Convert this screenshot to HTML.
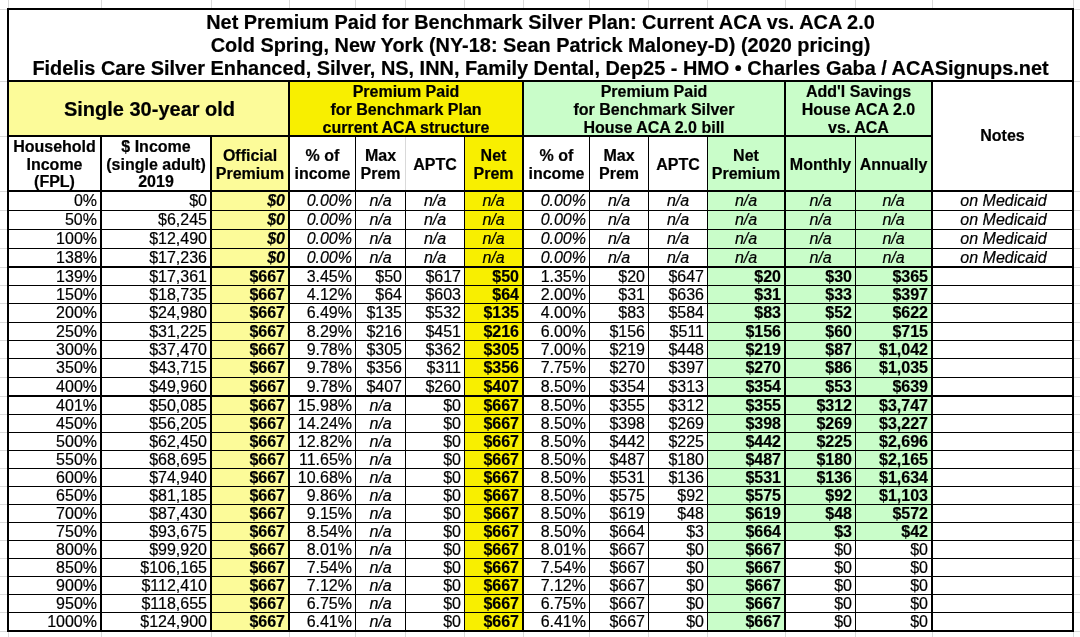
<!DOCTYPE html>
<html><head><meta charset="utf-8"><style>
html,body{margin:0;padding:0;background:#fff;width:1080px;height:637px;overflow:hidden;position:relative}
body{font-family:"Liberation Sans",sans-serif;color:#000}
.r{position:absolute}
.t{position:absolute;box-sizing:border-box;font-size:16px;white-space:nowrap;overflow:visible}
.b{font-weight:bold}
.t{-webkit-text-stroke:0.2px #000}
#tx{position:absolute;left:0;top:0;width:1080px;height:637px;will-change:transform}
.i{font-style:italic}
.c{display:flex;align-items:center;justify-content:center;text-align:center}
</style></head><body>
<div class="r" style="left:8px;top:0px;width:1px;height:8px;background:#D9D9D9"></div>
<div class="r" style="left:8px;top:632px;width:1px;height:5px;background:#D9D9D9"></div>
<div class="r" style="left:101px;top:0px;width:1px;height:8px;background:#D9D9D9"></div>
<div class="r" style="left:101px;top:632px;width:1px;height:5px;background:#D9D9D9"></div>
<div class="r" style="left:211px;top:0px;width:1px;height:8px;background:#D9D9D9"></div>
<div class="r" style="left:211px;top:632px;width:1px;height:5px;background:#D9D9D9"></div>
<div class="r" style="left:289px;top:0px;width:1px;height:8px;background:#D9D9D9"></div>
<div class="r" style="left:289px;top:632px;width:1px;height:5px;background:#D9D9D9"></div>
<div class="r" style="left:355px;top:0px;width:1px;height:8px;background:#D9D9D9"></div>
<div class="r" style="left:355px;top:632px;width:1px;height:5px;background:#D9D9D9"></div>
<div class="r" style="left:405px;top:0px;width:1px;height:8px;background:#D9D9D9"></div>
<div class="r" style="left:405px;top:632px;width:1px;height:5px;background:#D9D9D9"></div>
<div class="r" style="left:464px;top:0px;width:1px;height:8px;background:#D9D9D9"></div>
<div class="r" style="left:464px;top:632px;width:1px;height:5px;background:#D9D9D9"></div>
<div class="r" style="left:523px;top:0px;width:1px;height:8px;background:#D9D9D9"></div>
<div class="r" style="left:523px;top:632px;width:1px;height:5px;background:#D9D9D9"></div>
<div class="r" style="left:589px;top:0px;width:1px;height:8px;background:#D9D9D9"></div>
<div class="r" style="left:589px;top:632px;width:1px;height:5px;background:#D9D9D9"></div>
<div class="r" style="left:648px;top:0px;width:1px;height:8px;background:#D9D9D9"></div>
<div class="r" style="left:648px;top:632px;width:1px;height:5px;background:#D9D9D9"></div>
<div class="r" style="left:707px;top:0px;width:1px;height:8px;background:#D9D9D9"></div>
<div class="r" style="left:707px;top:632px;width:1px;height:5px;background:#D9D9D9"></div>
<div class="r" style="left:785px;top:0px;width:1px;height:8px;background:#D9D9D9"></div>
<div class="r" style="left:785px;top:632px;width:1px;height:5px;background:#D9D9D9"></div>
<div class="r" style="left:855px;top:0px;width:1px;height:8px;background:#D9D9D9"></div>
<div class="r" style="left:855px;top:632px;width:1px;height:5px;background:#D9D9D9"></div>
<div class="r" style="left:932px;top:0px;width:1px;height:8px;background:#D9D9D9"></div>
<div class="r" style="left:932px;top:632px;width:1px;height:5px;background:#D9D9D9"></div>
<div class="r" style="left:1073px;top:0px;width:1px;height:8px;background:#D9D9D9"></div>
<div class="r" style="left:1073px;top:632px;width:1px;height:5px;background:#D9D9D9"></div>
<div class="r" style="left:0px;top:9px;width:7px;height:1px;background:#D9D9D9"></div>
<div class="r" style="left:1074px;top:9px;width:6px;height:1px;background:#D9D9D9"></div>
<div class="r" style="left:0px;top:81px;width:7px;height:1px;background:#D9D9D9"></div>
<div class="r" style="left:1074px;top:81px;width:6px;height:1px;background:#D9D9D9"></div>
<div class="r" style="left:0px;top:136px;width:7px;height:1px;background:#D9D9D9"></div>
<div class="r" style="left:1074px;top:136px;width:6px;height:1px;background:#D9D9D9"></div>
<div class="r" style="left:0px;top:191px;width:7px;height:1px;background:#D9D9D9"></div>
<div class="r" style="left:1074px;top:191px;width:6px;height:1px;background:#D9D9D9"></div>
<div class="r" style="left:0px;top:210px;width:7px;height:1px;background:#D9D9D9"></div>
<div class="r" style="left:1074px;top:210px;width:6px;height:1px;background:#D9D9D9"></div>
<div class="r" style="left:0px;top:229px;width:7px;height:1px;background:#D9D9D9"></div>
<div class="r" style="left:1074px;top:229px;width:6px;height:1px;background:#D9D9D9"></div>
<div class="r" style="left:0px;top:248px;width:7px;height:1px;background:#D9D9D9"></div>
<div class="r" style="left:1074px;top:248px;width:6px;height:1px;background:#D9D9D9"></div>
<div class="r" style="left:0px;top:267px;width:7px;height:1px;background:#D9D9D9"></div>
<div class="r" style="left:1074px;top:267px;width:6px;height:1px;background:#D9D9D9"></div>
<div class="r" style="left:0px;top:285px;width:7px;height:1px;background:#D9D9D9"></div>
<div class="r" style="left:1074px;top:285px;width:6px;height:1px;background:#D9D9D9"></div>
<div class="r" style="left:0px;top:303px;width:7px;height:1px;background:#D9D9D9"></div>
<div class="r" style="left:1074px;top:303px;width:6px;height:1px;background:#D9D9D9"></div>
<div class="r" style="left:0px;top:322px;width:7px;height:1px;background:#D9D9D9"></div>
<div class="r" style="left:1074px;top:322px;width:6px;height:1px;background:#D9D9D9"></div>
<div class="r" style="left:0px;top:340px;width:7px;height:1px;background:#D9D9D9"></div>
<div class="r" style="left:1074px;top:340px;width:6px;height:1px;background:#D9D9D9"></div>
<div class="r" style="left:0px;top:358px;width:7px;height:1px;background:#D9D9D9"></div>
<div class="r" style="left:1074px;top:358px;width:6px;height:1px;background:#D9D9D9"></div>
<div class="r" style="left:0px;top:377px;width:7px;height:1px;background:#D9D9D9"></div>
<div class="r" style="left:1074px;top:377px;width:6px;height:1px;background:#D9D9D9"></div>
<div class="r" style="left:0px;top:396px;width:7px;height:1px;background:#D9D9D9"></div>
<div class="r" style="left:1074px;top:396px;width:6px;height:1px;background:#D9D9D9"></div>
<div class="r" style="left:0px;top:414px;width:7px;height:1px;background:#D9D9D9"></div>
<div class="r" style="left:1074px;top:414px;width:6px;height:1px;background:#D9D9D9"></div>
<div class="r" style="left:0px;top:432px;width:7px;height:1px;background:#D9D9D9"></div>
<div class="r" style="left:1074px;top:432px;width:6px;height:1px;background:#D9D9D9"></div>
<div class="r" style="left:0px;top:450px;width:7px;height:1px;background:#D9D9D9"></div>
<div class="r" style="left:1074px;top:450px;width:6px;height:1px;background:#D9D9D9"></div>
<div class="r" style="left:0px;top:468px;width:7px;height:1px;background:#D9D9D9"></div>
<div class="r" style="left:1074px;top:468px;width:6px;height:1px;background:#D9D9D9"></div>
<div class="r" style="left:0px;top:486px;width:7px;height:1px;background:#D9D9D9"></div>
<div class="r" style="left:1074px;top:486px;width:6px;height:1px;background:#D9D9D9"></div>
<div class="r" style="left:0px;top:504px;width:7px;height:1px;background:#D9D9D9"></div>
<div class="r" style="left:1074px;top:504px;width:6px;height:1px;background:#D9D9D9"></div>
<div class="r" style="left:0px;top:522px;width:7px;height:1px;background:#D9D9D9"></div>
<div class="r" style="left:1074px;top:522px;width:6px;height:1px;background:#D9D9D9"></div>
<div class="r" style="left:0px;top:540px;width:7px;height:1px;background:#D9D9D9"></div>
<div class="r" style="left:1074px;top:540px;width:6px;height:1px;background:#D9D9D9"></div>
<div class="r" style="left:0px;top:558px;width:7px;height:1px;background:#D9D9D9"></div>
<div class="r" style="left:1074px;top:558px;width:6px;height:1px;background:#D9D9D9"></div>
<div class="r" style="left:0px;top:576px;width:7px;height:1px;background:#D9D9D9"></div>
<div class="r" style="left:1074px;top:576px;width:6px;height:1px;background:#D9D9D9"></div>
<div class="r" style="left:0px;top:594px;width:7px;height:1px;background:#D9D9D9"></div>
<div class="r" style="left:1074px;top:594px;width:6px;height:1px;background:#D9D9D9"></div>
<div class="r" style="left:0px;top:612px;width:7px;height:1px;background:#D9D9D9"></div>
<div class="r" style="left:1074px;top:612px;width:6px;height:1px;background:#D9D9D9"></div>
<div class="r" style="left:0px;top:631px;width:7px;height:1px;background:#D9D9D9"></div>
<div class="r" style="left:1074px;top:631px;width:6px;height:1px;background:#D9D9D9"></div>
<div class="r" style="left:9px;top:82px;width:279px;height:53px;background:#FCFB99"></div>
<div class="r" style="left:290px;top:82px;width:232px;height:53px;background:#F8EF00"></div>
<div class="r" style="left:524px;top:82px;width:260px;height:53px;background:#C9FDC9"></div>
<div class="r" style="left:786px;top:82px;width:145px;height:53px;background:#C9FDC9"></div>
<div class="r" style="left:212px;top:137px;width:76px;height:53px;background:#FCFB99"></div>
<div class="r" style="left:465px;top:137px;width:57px;height:53px;background:#F8EF00"></div>
<div class="r" style="left:708px;top:137px;width:76px;height:53px;background:#C9FDC9"></div>
<div class="r" style="left:786px;top:137px;width:145px;height:53px;background:#C9FDC9"></div>
<div class="r" style="left:212px;top:192px;width:76px;height:438px;background:#FCFB99"></div>
<div class="r" style="left:465px;top:192px;width:57px;height:438px;background:#F8EF00"></div>
<div class="r" style="left:708px;top:192px;width:76px;height:438px;background:#C9FDC9"></div>
<div class="r" style="left:786px;top:192px;width:145px;height:348px;background:#C9FDC9"></div>
<div class="r" style="left:7px;top:8px;width:1067px;height:2px;background:#000"></div>
<div class="r" style="left:7px;top:630px;width:1067px;height:2px;background:#000"></div>
<div class="r" style="left:7px;top:8px;width:2px;height:624px;background:#000"></div>
<div class="r" style="left:1072px;top:8px;width:2px;height:624px;background:#000"></div>
<div class="r" style="left:7px;top:80px;width:1067px;height:2px;background:#000"></div>
<div class="r" style="left:7px;top:135px;width:926px;height:2px;background:#000"></div>
<div class="r" style="left:7px;top:190px;width:1067px;height:2px;background:#000"></div>
<div class="r" style="left:288px;top:80px;width:2px;height:552px;background:#000"></div>
<div class="r" style="left:522px;top:80px;width:2px;height:552px;background:#000"></div>
<div class="r" style="left:784px;top:80px;width:2px;height:552px;background:#000"></div>
<div class="r" style="left:931px;top:80px;width:2px;height:552px;background:#000"></div>
<div class="r" style="left:100px;top:135px;width:2px;height:497px;background:#000"></div>
<div class="r" style="left:210px;top:135px;width:2px;height:497px;background:#000"></div>
<div class="r" style="left:355px;top:135px;width:1px;height:497px;background:#000"></div>
<div class="r" style="left:464px;top:135px;width:1px;height:497px;background:#000"></div>
<div class="r" style="left:589px;top:135px;width:1px;height:497px;background:#000"></div>
<div class="r" style="left:648px;top:135px;width:1px;height:497px;background:#000"></div>
<div class="r" style="left:707px;top:135px;width:1px;height:497px;background:#000"></div>
<div class="r" style="left:855px;top:135px;width:1px;height:497px;background:#000"></div>
<div class="r" style="left:405px;top:137px;width:1px;height:53px;background:#D9D9D9"></div>
<div class="r" style="left:405px;top:190px;width:1px;height:442px;background:#000"></div>
<div class="r" style="left:7px;top:190px;width:1067px;height:2px;background:#000"></div>
<div class="r" style="left:7px;top:210px;width:1067px;height:1px;background:#000"></div>
<div class="r" style="left:7px;top:229px;width:1067px;height:1px;background:#000"></div>
<div class="r" style="left:7px;top:248px;width:1067px;height:1px;background:#000"></div>
<div class="r" style="left:7px;top:266px;width:1067px;height:2px;background:#000"></div>
<div class="r" style="left:7px;top:285px;width:1067px;height:1px;background:#000"></div>
<div class="r" style="left:7px;top:303px;width:1067px;height:1px;background:#000"></div>
<div class="r" style="left:7px;top:322px;width:1067px;height:1px;background:#000"></div>
<div class="r" style="left:7px;top:340px;width:1067px;height:1px;background:#000"></div>
<div class="r" style="left:7px;top:358px;width:1067px;height:1px;background:#000"></div>
<div class="r" style="left:7px;top:377px;width:1067px;height:1px;background:#000"></div>
<div class="r" style="left:7px;top:395px;width:1067px;height:2px;background:#000"></div>
<div class="r" style="left:7px;top:414px;width:1067px;height:1px;background:#000"></div>
<div class="r" style="left:7px;top:432px;width:1067px;height:1px;background:#000"></div>
<div class="r" style="left:7px;top:450px;width:1067px;height:1px;background:#000"></div>
<div class="r" style="left:7px;top:468px;width:1067px;height:1px;background:#000"></div>
<div class="r" style="left:7px;top:486px;width:1067px;height:1px;background:#000"></div>
<div class="r" style="left:7px;top:504px;width:1067px;height:1px;background:#000"></div>
<div class="r" style="left:7px;top:522px;width:1067px;height:1px;background:#000"></div>
<div class="r" style="left:7px;top:540px;width:1067px;height:1px;background:#000"></div>
<div class="r" style="left:7px;top:558px;width:1067px;height:1px;background:#000"></div>
<div class="r" style="left:7px;top:576px;width:1067px;height:1px;background:#000"></div>
<div class="r" style="left:7px;top:594px;width:1067px;height:1px;background:#000"></div>
<div class="r" style="left:7px;top:612px;width:1067px;height:1px;background:#000"></div>
<div class="r" style="left:7px;top:630px;width:1067px;height:2px;background:#000"></div>
<div id="tx">
<div class="t b" style="left:9px;top:9px;width:1063px;height:70px;font-size:19.92px;line-height:23px;text-align:center;padding-top:2px">Net Premium Paid for Benchmark Silver Plan: Current ACA vs. ACA 2.0<br>Cold Spring, New York (NY-18: Sean Patrick Maloney-D) (2020 pricing)<br>Fidelis Care Silver Enhanced, Silver, NS, INN, Family Dental, Dep25 - HMO &bull; Charles Gaba / ACASignups.net</div>
<div class="t b c" style="left:10px;top:82px;width:279px;height:53px;font-size:20px;"><div class="in" style="line-height:22px">Single 30-year old</div></div>
<div class="t b c" style="left:290px;top:83px;width:232px;height:53px;font-size:16px;"><div class="in" style="line-height:18px">Premium Paid<br>for Benchmark Plan<br>current ACA structure</div></div>
<div class="t b c" style="left:524px;top:83px;width:260px;height:53px;font-size:16px;"><div class="in" style="line-height:18px">Premium Paid<br>for Benchmark Silver<br>House ACA 2.0 bill</div></div>
<div class="t b c" style="left:786px;top:83px;width:145px;height:53px;font-size:16px;"><div class="in" style="line-height:18px">Add'l Savings<br>House ACA 2.0<br>vs. ACA</div></div>
<div class="t b c" style="left:933px;top:82px;width:139px;height:108px;font-size:16px;"><div class="in" style="line-height:17.8px">Notes</div></div>
<div class="t b c" style="left:9px;top:138px;width:91px;height:53px;font-size:16px;"><div class="in" style="line-height:17.8px">Household<br>Income<br>(FPL)</div></div>
<div class="t b c" style="left:102px;top:138px;width:108px;height:53px;font-size:16px;"><div class="in" style="line-height:17.8px">$ Income<br>(single adult)<br>2019</div></div>
<div class="t b c" style="left:212px;top:138px;width:76px;height:53px;font-size:16px;"><div class="in" style="line-height:17.8px">Official<br>Premium</div></div>
<div class="t b c" style="left:290px;top:138px;width:65px;height:53px;font-size:16px;"><div class="in" style="line-height:17.8px">% of<br>income</div></div>
<div class="t b c" style="left:356px;top:138px;width:49px;height:53px;font-size:16px;"><div class="in" style="line-height:17.8px">Max<br>Prem</div></div>
<div class="t b c" style="left:406px;top:138px;width:58px;height:53px;font-size:16px;"><div class="in" style="line-height:17.8px">APTC</div></div>
<div class="t b c" style="left:465px;top:138px;width:57px;height:53px;font-size:16px;"><div class="in" style="line-height:17.8px">Net<br>Prem</div></div>
<div class="t b c" style="left:524px;top:138px;width:65px;height:53px;font-size:16px;"><div class="in" style="line-height:17.8px">% of<br>income</div></div>
<div class="t b c" style="left:590px;top:138px;width:58px;height:53px;font-size:16px;"><div class="in" style="line-height:17.8px">Max<br>Prem</div></div>
<div class="t b c" style="left:649px;top:138px;width:58px;height:53px;font-size:16px;"><div class="in" style="line-height:17.8px">APTC</div></div>
<div class="t b c" style="left:708px;top:138px;width:76px;height:53px;font-size:16px;"><div class="in" style="line-height:17.8px">Net<br>Premium</div></div>
<div class="t b c" style="left:786px;top:138px;width:69px;height:53px;font-size:16px;"><div class="in" style="line-height:17.8px">Monthly</div></div>
<div class="t b c" style="left:856px;top:138px;width:75px;height:53px;font-size:16px;"><div class="in" style="line-height:17.8px">Annually</div></div>
<div class="t " style="left:9px;top:192px;width:91px;height:18px;line-height:18px;text-align:right;padding-right:3px;">0%</div>
<div class="t " style="left:102px;top:192px;width:108px;height:18px;line-height:18px;text-align:right;padding-right:3px;">$0</div>
<div class="t b i" style="left:212px;top:192px;width:76px;height:18px;line-height:18px;text-align:right;padding-right:3px;">$0</div>
<div class="t i" style="left:290px;top:192px;width:65px;height:18px;line-height:18px;text-align:right;padding-right:3px;">0.00%</div>
<div class="t i" style="left:356px;top:192px;width:49px;height:18px;line-height:18px;text-align:center;padding-right:0px;">n/a</div>
<div class="t i" style="left:406px;top:192px;width:58px;height:18px;line-height:18px;text-align:center;padding-right:0px;">n/a</div>
<div class="t i" style="left:465px;top:192px;width:57px;height:18px;line-height:18px;text-align:center;padding-right:0px;">n/a</div>
<div class="t i" style="left:524px;top:192px;width:65px;height:18px;line-height:18px;text-align:right;padding-right:3px;">0.00%</div>
<div class="t i" style="left:590px;top:192px;width:58px;height:18px;line-height:18px;text-align:center;padding-right:0px;">n/a</div>
<div class="t i" style="left:649px;top:192px;width:58px;height:18px;line-height:18px;text-align:center;padding-right:0px;">n/a</div>
<div class="t i" style="left:708px;top:192px;width:76px;height:18px;line-height:18px;text-align:center;padding-right:0px;">n/a</div>
<div class="t i" style="left:786px;top:192px;width:69px;height:18px;line-height:18px;text-align:center;padding-right:0px;">n/a</div>
<div class="t i" style="left:856px;top:192px;width:75px;height:18px;line-height:18px;text-align:center;padding-right:0px;">n/a</div>
<div class="t i" style="left:934px;top:192px;width:139px;height:18px;line-height:18px;text-align:center;padding-right:0px;">on Medicaid</div>
<div class="t " style="left:9px;top:211px;width:91px;height:18px;line-height:18px;text-align:right;padding-right:3px;">50%</div>
<div class="t " style="left:102px;top:211px;width:108px;height:18px;line-height:18px;text-align:right;padding-right:3px;">$6,245</div>
<div class="t b i" style="left:212px;top:211px;width:76px;height:18px;line-height:18px;text-align:right;padding-right:3px;">$0</div>
<div class="t i" style="left:290px;top:211px;width:65px;height:18px;line-height:18px;text-align:right;padding-right:3px;">0.00%</div>
<div class="t i" style="left:356px;top:211px;width:49px;height:18px;line-height:18px;text-align:center;padding-right:0px;">n/a</div>
<div class="t i" style="left:406px;top:211px;width:58px;height:18px;line-height:18px;text-align:center;padding-right:0px;">n/a</div>
<div class="t i" style="left:465px;top:211px;width:57px;height:18px;line-height:18px;text-align:center;padding-right:0px;">n/a</div>
<div class="t i" style="left:524px;top:211px;width:65px;height:18px;line-height:18px;text-align:right;padding-right:3px;">0.00%</div>
<div class="t i" style="left:590px;top:211px;width:58px;height:18px;line-height:18px;text-align:center;padding-right:0px;">n/a</div>
<div class="t i" style="left:649px;top:211px;width:58px;height:18px;line-height:18px;text-align:center;padding-right:0px;">n/a</div>
<div class="t i" style="left:708px;top:211px;width:76px;height:18px;line-height:18px;text-align:center;padding-right:0px;">n/a</div>
<div class="t i" style="left:786px;top:211px;width:69px;height:18px;line-height:18px;text-align:center;padding-right:0px;">n/a</div>
<div class="t i" style="left:856px;top:211px;width:75px;height:18px;line-height:18px;text-align:center;padding-right:0px;">n/a</div>
<div class="t i" style="left:934px;top:211px;width:139px;height:18px;line-height:18px;text-align:center;padding-right:0px;">on Medicaid</div>
<div class="t " style="left:9px;top:230px;width:91px;height:18px;line-height:18px;text-align:right;padding-right:3px;">100%</div>
<div class="t " style="left:102px;top:230px;width:108px;height:18px;line-height:18px;text-align:right;padding-right:3px;">$12,490</div>
<div class="t b i" style="left:212px;top:230px;width:76px;height:18px;line-height:18px;text-align:right;padding-right:3px;">$0</div>
<div class="t i" style="left:290px;top:230px;width:65px;height:18px;line-height:18px;text-align:right;padding-right:3px;">0.00%</div>
<div class="t i" style="left:356px;top:230px;width:49px;height:18px;line-height:18px;text-align:center;padding-right:0px;">n/a</div>
<div class="t i" style="left:406px;top:230px;width:58px;height:18px;line-height:18px;text-align:center;padding-right:0px;">n/a</div>
<div class="t i" style="left:465px;top:230px;width:57px;height:18px;line-height:18px;text-align:center;padding-right:0px;">n/a</div>
<div class="t i" style="left:524px;top:230px;width:65px;height:18px;line-height:18px;text-align:right;padding-right:3px;">0.00%</div>
<div class="t i" style="left:590px;top:230px;width:58px;height:18px;line-height:18px;text-align:center;padding-right:0px;">n/a</div>
<div class="t i" style="left:649px;top:230px;width:58px;height:18px;line-height:18px;text-align:center;padding-right:0px;">n/a</div>
<div class="t i" style="left:708px;top:230px;width:76px;height:18px;line-height:18px;text-align:center;padding-right:0px;">n/a</div>
<div class="t i" style="left:786px;top:230px;width:69px;height:18px;line-height:18px;text-align:center;padding-right:0px;">n/a</div>
<div class="t i" style="left:856px;top:230px;width:75px;height:18px;line-height:18px;text-align:center;padding-right:0px;">n/a</div>
<div class="t i" style="left:934px;top:230px;width:139px;height:18px;line-height:18px;text-align:center;padding-right:0px;">on Medicaid</div>
<div class="t " style="left:9px;top:249px;width:91px;height:17px;line-height:17px;text-align:right;padding-right:3px;">138%</div>
<div class="t " style="left:102px;top:249px;width:108px;height:17px;line-height:17px;text-align:right;padding-right:3px;">$17,236</div>
<div class="t b i" style="left:212px;top:249px;width:76px;height:17px;line-height:17px;text-align:right;padding-right:3px;">$0</div>
<div class="t i" style="left:290px;top:249px;width:65px;height:17px;line-height:17px;text-align:right;padding-right:3px;">0.00%</div>
<div class="t i" style="left:356px;top:249px;width:49px;height:17px;line-height:17px;text-align:center;padding-right:0px;">n/a</div>
<div class="t i" style="left:406px;top:249px;width:58px;height:17px;line-height:17px;text-align:center;padding-right:0px;">n/a</div>
<div class="t i" style="left:465px;top:249px;width:57px;height:17px;line-height:17px;text-align:center;padding-right:0px;">n/a</div>
<div class="t i" style="left:524px;top:249px;width:65px;height:17px;line-height:17px;text-align:right;padding-right:3px;">0.00%</div>
<div class="t i" style="left:590px;top:249px;width:58px;height:17px;line-height:17px;text-align:center;padding-right:0px;">n/a</div>
<div class="t i" style="left:649px;top:249px;width:58px;height:17px;line-height:17px;text-align:center;padding-right:0px;">n/a</div>
<div class="t i" style="left:708px;top:249px;width:76px;height:17px;line-height:17px;text-align:center;padding-right:0px;">n/a</div>
<div class="t i" style="left:786px;top:249px;width:69px;height:17px;line-height:17px;text-align:center;padding-right:0px;">n/a</div>
<div class="t i" style="left:856px;top:249px;width:75px;height:17px;line-height:17px;text-align:center;padding-right:0px;">n/a</div>
<div class="t i" style="left:934px;top:249px;width:139px;height:17px;line-height:17px;text-align:center;padding-right:0px;">on Medicaid</div>
<div class="t " style="left:9px;top:268px;width:91px;height:17px;line-height:17px;text-align:right;padding-right:3px;">139%</div>
<div class="t " style="left:102px;top:268px;width:108px;height:17px;line-height:17px;text-align:right;padding-right:3px;">$17,361</div>
<div class="t b" style="left:212px;top:268px;width:76px;height:17px;line-height:17px;text-align:right;padding-right:3px;">$667</div>
<div class="t " style="left:290px;top:268px;width:65px;height:17px;line-height:17px;text-align:right;padding-right:3px;">3.45%</div>
<div class="t " style="left:356px;top:268px;width:49px;height:17px;line-height:17px;text-align:right;padding-right:3px;">$50</div>
<div class="t " style="left:406px;top:268px;width:58px;height:17px;line-height:17px;text-align:right;padding-right:3px;">$617</div>
<div class="t b" style="left:465px;top:268px;width:57px;height:17px;line-height:17px;text-align:right;padding-right:3px;">$50</div>
<div class="t " style="left:524px;top:268px;width:65px;height:17px;line-height:17px;text-align:right;padding-right:3px;">1.35%</div>
<div class="t " style="left:590px;top:268px;width:58px;height:17px;line-height:17px;text-align:right;padding-right:3px;">$20</div>
<div class="t " style="left:649px;top:268px;width:58px;height:17px;line-height:17px;text-align:right;padding-right:3px;">$647</div>
<div class="t b" style="left:708px;top:268px;width:76px;height:17px;line-height:17px;text-align:right;padding-right:3px;">$20</div>
<div class="t b" style="left:786px;top:268px;width:69px;height:17px;line-height:17px;text-align:right;padding-right:3px;">$30</div>
<div class="t b" style="left:856px;top:268px;width:75px;height:17px;line-height:17px;text-align:right;padding-right:3px;">$365</div>
<div class="t " style="left:9px;top:286px;width:91px;height:17px;line-height:17px;text-align:right;padding-right:3px;">150%</div>
<div class="t " style="left:102px;top:286px;width:108px;height:17px;line-height:17px;text-align:right;padding-right:3px;">$18,735</div>
<div class="t b" style="left:212px;top:286px;width:76px;height:17px;line-height:17px;text-align:right;padding-right:3px;">$667</div>
<div class="t " style="left:290px;top:286px;width:65px;height:17px;line-height:17px;text-align:right;padding-right:3px;">4.12%</div>
<div class="t " style="left:356px;top:286px;width:49px;height:17px;line-height:17px;text-align:right;padding-right:3px;">$64</div>
<div class="t " style="left:406px;top:286px;width:58px;height:17px;line-height:17px;text-align:right;padding-right:3px;">$603</div>
<div class="t b" style="left:465px;top:286px;width:57px;height:17px;line-height:17px;text-align:right;padding-right:3px;">$64</div>
<div class="t " style="left:524px;top:286px;width:65px;height:17px;line-height:17px;text-align:right;padding-right:3px;">2.00%</div>
<div class="t " style="left:590px;top:286px;width:58px;height:17px;line-height:17px;text-align:right;padding-right:3px;">$31</div>
<div class="t " style="left:649px;top:286px;width:58px;height:17px;line-height:17px;text-align:right;padding-right:3px;">$636</div>
<div class="t b" style="left:708px;top:286px;width:76px;height:17px;line-height:17px;text-align:right;padding-right:3px;">$31</div>
<div class="t b" style="left:786px;top:286px;width:69px;height:17px;line-height:17px;text-align:right;padding-right:3px;">$33</div>
<div class="t b" style="left:856px;top:286px;width:75px;height:17px;line-height:17px;text-align:right;padding-right:3px;">$397</div>
<div class="t " style="left:9px;top:304px;width:91px;height:18px;line-height:18px;text-align:right;padding-right:3px;">200%</div>
<div class="t " style="left:102px;top:304px;width:108px;height:18px;line-height:18px;text-align:right;padding-right:3px;">$24,980</div>
<div class="t b" style="left:212px;top:304px;width:76px;height:18px;line-height:18px;text-align:right;padding-right:3px;">$667</div>
<div class="t " style="left:290px;top:304px;width:65px;height:18px;line-height:18px;text-align:right;padding-right:3px;">6.49%</div>
<div class="t " style="left:356px;top:304px;width:49px;height:18px;line-height:18px;text-align:right;padding-right:3px;">$135</div>
<div class="t " style="left:406px;top:304px;width:58px;height:18px;line-height:18px;text-align:right;padding-right:3px;">$532</div>
<div class="t b" style="left:465px;top:304px;width:57px;height:18px;line-height:18px;text-align:right;padding-right:3px;">$135</div>
<div class="t " style="left:524px;top:304px;width:65px;height:18px;line-height:18px;text-align:right;padding-right:3px;">4.00%</div>
<div class="t " style="left:590px;top:304px;width:58px;height:18px;line-height:18px;text-align:right;padding-right:3px;">$83</div>
<div class="t " style="left:649px;top:304px;width:58px;height:18px;line-height:18px;text-align:right;padding-right:3px;">$584</div>
<div class="t b" style="left:708px;top:304px;width:76px;height:18px;line-height:18px;text-align:right;padding-right:3px;">$83</div>
<div class="t b" style="left:786px;top:304px;width:69px;height:18px;line-height:18px;text-align:right;padding-right:3px;">$52</div>
<div class="t b" style="left:856px;top:304px;width:75px;height:18px;line-height:18px;text-align:right;padding-right:3px;">$622</div>
<div class="t " style="left:9px;top:323px;width:91px;height:17px;line-height:17px;text-align:right;padding-right:3px;">250%</div>
<div class="t " style="left:102px;top:323px;width:108px;height:17px;line-height:17px;text-align:right;padding-right:3px;">$31,225</div>
<div class="t b" style="left:212px;top:323px;width:76px;height:17px;line-height:17px;text-align:right;padding-right:3px;">$667</div>
<div class="t " style="left:290px;top:323px;width:65px;height:17px;line-height:17px;text-align:right;padding-right:3px;">8.29%</div>
<div class="t " style="left:356px;top:323px;width:49px;height:17px;line-height:17px;text-align:right;padding-right:3px;">$216</div>
<div class="t " style="left:406px;top:323px;width:58px;height:17px;line-height:17px;text-align:right;padding-right:3px;">$451</div>
<div class="t b" style="left:465px;top:323px;width:57px;height:17px;line-height:17px;text-align:right;padding-right:3px;">$216</div>
<div class="t " style="left:524px;top:323px;width:65px;height:17px;line-height:17px;text-align:right;padding-right:3px;">6.00%</div>
<div class="t " style="left:590px;top:323px;width:58px;height:17px;line-height:17px;text-align:right;padding-right:3px;">$156</div>
<div class="t " style="left:649px;top:323px;width:58px;height:17px;line-height:17px;text-align:right;padding-right:3px;">$511</div>
<div class="t b" style="left:708px;top:323px;width:76px;height:17px;line-height:17px;text-align:right;padding-right:3px;">$156</div>
<div class="t b" style="left:786px;top:323px;width:69px;height:17px;line-height:17px;text-align:right;padding-right:3px;">$60</div>
<div class="t b" style="left:856px;top:323px;width:75px;height:17px;line-height:17px;text-align:right;padding-right:3px;">$715</div>
<div class="t " style="left:9px;top:341px;width:91px;height:17px;line-height:17px;text-align:right;padding-right:3px;">300%</div>
<div class="t " style="left:102px;top:341px;width:108px;height:17px;line-height:17px;text-align:right;padding-right:3px;">$37,470</div>
<div class="t b" style="left:212px;top:341px;width:76px;height:17px;line-height:17px;text-align:right;padding-right:3px;">$667</div>
<div class="t " style="left:290px;top:341px;width:65px;height:17px;line-height:17px;text-align:right;padding-right:3px;">9.78%</div>
<div class="t " style="left:356px;top:341px;width:49px;height:17px;line-height:17px;text-align:right;padding-right:3px;">$305</div>
<div class="t " style="left:406px;top:341px;width:58px;height:17px;line-height:17px;text-align:right;padding-right:3px;">$362</div>
<div class="t b" style="left:465px;top:341px;width:57px;height:17px;line-height:17px;text-align:right;padding-right:3px;">$305</div>
<div class="t " style="left:524px;top:341px;width:65px;height:17px;line-height:17px;text-align:right;padding-right:3px;">7.00%</div>
<div class="t " style="left:590px;top:341px;width:58px;height:17px;line-height:17px;text-align:right;padding-right:3px;">$219</div>
<div class="t " style="left:649px;top:341px;width:58px;height:17px;line-height:17px;text-align:right;padding-right:3px;">$448</div>
<div class="t b" style="left:708px;top:341px;width:76px;height:17px;line-height:17px;text-align:right;padding-right:3px;">$219</div>
<div class="t b" style="left:786px;top:341px;width:69px;height:17px;line-height:17px;text-align:right;padding-right:3px;">$87</div>
<div class="t b" style="left:856px;top:341px;width:75px;height:17px;line-height:17px;text-align:right;padding-right:3px;">$1,042</div>
<div class="t " style="left:9px;top:359px;width:91px;height:18px;line-height:18px;text-align:right;padding-right:3px;">350%</div>
<div class="t " style="left:102px;top:359px;width:108px;height:18px;line-height:18px;text-align:right;padding-right:3px;">$43,715</div>
<div class="t b" style="left:212px;top:359px;width:76px;height:18px;line-height:18px;text-align:right;padding-right:3px;">$667</div>
<div class="t " style="left:290px;top:359px;width:65px;height:18px;line-height:18px;text-align:right;padding-right:3px;">9.78%</div>
<div class="t " style="left:356px;top:359px;width:49px;height:18px;line-height:18px;text-align:right;padding-right:3px;">$356</div>
<div class="t " style="left:406px;top:359px;width:58px;height:18px;line-height:18px;text-align:right;padding-right:3px;">$311</div>
<div class="t b" style="left:465px;top:359px;width:57px;height:18px;line-height:18px;text-align:right;padding-right:3px;">$356</div>
<div class="t " style="left:524px;top:359px;width:65px;height:18px;line-height:18px;text-align:right;padding-right:3px;">7.75%</div>
<div class="t " style="left:590px;top:359px;width:58px;height:18px;line-height:18px;text-align:right;padding-right:3px;">$270</div>
<div class="t " style="left:649px;top:359px;width:58px;height:18px;line-height:18px;text-align:right;padding-right:3px;">$397</div>
<div class="t b" style="left:708px;top:359px;width:76px;height:18px;line-height:18px;text-align:right;padding-right:3px;">$270</div>
<div class="t b" style="left:786px;top:359px;width:69px;height:18px;line-height:18px;text-align:right;padding-right:3px;">$86</div>
<div class="t b" style="left:856px;top:359px;width:75px;height:18px;line-height:18px;text-align:right;padding-right:3px;">$1,035</div>
<div class="t " style="left:9px;top:378px;width:91px;height:17px;line-height:17px;text-align:right;padding-right:3px;">400%</div>
<div class="t " style="left:102px;top:378px;width:108px;height:17px;line-height:17px;text-align:right;padding-right:3px;">$49,960</div>
<div class="t b" style="left:212px;top:378px;width:76px;height:17px;line-height:17px;text-align:right;padding-right:3px;">$667</div>
<div class="t " style="left:290px;top:378px;width:65px;height:17px;line-height:17px;text-align:right;padding-right:3px;">9.78%</div>
<div class="t " style="left:356px;top:378px;width:49px;height:17px;line-height:17px;text-align:right;padding-right:3px;">$407</div>
<div class="t " style="left:406px;top:378px;width:58px;height:17px;line-height:17px;text-align:right;padding-right:3px;">$260</div>
<div class="t b" style="left:465px;top:378px;width:57px;height:17px;line-height:17px;text-align:right;padding-right:3px;">$407</div>
<div class="t " style="left:524px;top:378px;width:65px;height:17px;line-height:17px;text-align:right;padding-right:3px;">8.50%</div>
<div class="t " style="left:590px;top:378px;width:58px;height:17px;line-height:17px;text-align:right;padding-right:3px;">$354</div>
<div class="t " style="left:649px;top:378px;width:58px;height:17px;line-height:17px;text-align:right;padding-right:3px;">$313</div>
<div class="t b" style="left:708px;top:378px;width:76px;height:17px;line-height:17px;text-align:right;padding-right:3px;">$354</div>
<div class="t b" style="left:786px;top:378px;width:69px;height:17px;line-height:17px;text-align:right;padding-right:3px;">$53</div>
<div class="t b" style="left:856px;top:378px;width:75px;height:17px;line-height:17px;text-align:right;padding-right:3px;">$639</div>
<div class="t " style="left:9px;top:397px;width:91px;height:17px;line-height:17px;text-align:right;padding-right:3px;">401%</div>
<div class="t " style="left:102px;top:397px;width:108px;height:17px;line-height:17px;text-align:right;padding-right:3px;">$50,085</div>
<div class="t b" style="left:212px;top:397px;width:76px;height:17px;line-height:17px;text-align:right;padding-right:3px;">$667</div>
<div class="t " style="left:290px;top:397px;width:65px;height:17px;line-height:17px;text-align:right;padding-right:3px;">15.98%</div>
<div class="t i" style="left:356px;top:397px;width:49px;height:17px;line-height:17px;text-align:center;padding-right:0px;">n/a</div>
<div class="t " style="left:406px;top:397px;width:58px;height:17px;line-height:17px;text-align:right;padding-right:3px;">$0</div>
<div class="t b" style="left:465px;top:397px;width:57px;height:17px;line-height:17px;text-align:right;padding-right:3px;">$667</div>
<div class="t " style="left:524px;top:397px;width:65px;height:17px;line-height:17px;text-align:right;padding-right:3px;">8.50%</div>
<div class="t " style="left:590px;top:397px;width:58px;height:17px;line-height:17px;text-align:right;padding-right:3px;">$355</div>
<div class="t " style="left:649px;top:397px;width:58px;height:17px;line-height:17px;text-align:right;padding-right:3px;">$312</div>
<div class="t b" style="left:708px;top:397px;width:76px;height:17px;line-height:17px;text-align:right;padding-right:3px;">$355</div>
<div class="t b" style="left:786px;top:397px;width:69px;height:17px;line-height:17px;text-align:right;padding-right:3px;">$312</div>
<div class="t b" style="left:856px;top:397px;width:75px;height:17px;line-height:17px;text-align:right;padding-right:3px;">$3,747</div>
<div class="t " style="left:9px;top:415px;width:91px;height:17px;line-height:17px;text-align:right;padding-right:3px;">450%</div>
<div class="t " style="left:102px;top:415px;width:108px;height:17px;line-height:17px;text-align:right;padding-right:3px;">$56,205</div>
<div class="t b" style="left:212px;top:415px;width:76px;height:17px;line-height:17px;text-align:right;padding-right:3px;">$667</div>
<div class="t " style="left:290px;top:415px;width:65px;height:17px;line-height:17px;text-align:right;padding-right:3px;">14.24%</div>
<div class="t i" style="left:356px;top:415px;width:49px;height:17px;line-height:17px;text-align:center;padding-right:0px;">n/a</div>
<div class="t " style="left:406px;top:415px;width:58px;height:17px;line-height:17px;text-align:right;padding-right:3px;">$0</div>
<div class="t b" style="left:465px;top:415px;width:57px;height:17px;line-height:17px;text-align:right;padding-right:3px;">$667</div>
<div class="t " style="left:524px;top:415px;width:65px;height:17px;line-height:17px;text-align:right;padding-right:3px;">8.50%</div>
<div class="t " style="left:590px;top:415px;width:58px;height:17px;line-height:17px;text-align:right;padding-right:3px;">$398</div>
<div class="t " style="left:649px;top:415px;width:58px;height:17px;line-height:17px;text-align:right;padding-right:3px;">$269</div>
<div class="t b" style="left:708px;top:415px;width:76px;height:17px;line-height:17px;text-align:right;padding-right:3px;">$398</div>
<div class="t b" style="left:786px;top:415px;width:69px;height:17px;line-height:17px;text-align:right;padding-right:3px;">$269</div>
<div class="t b" style="left:856px;top:415px;width:75px;height:17px;line-height:17px;text-align:right;padding-right:3px;">$3,227</div>
<div class="t " style="left:9px;top:433px;width:91px;height:17px;line-height:17px;text-align:right;padding-right:3px;">500%</div>
<div class="t " style="left:102px;top:433px;width:108px;height:17px;line-height:17px;text-align:right;padding-right:3px;">$62,450</div>
<div class="t b" style="left:212px;top:433px;width:76px;height:17px;line-height:17px;text-align:right;padding-right:3px;">$667</div>
<div class="t " style="left:290px;top:433px;width:65px;height:17px;line-height:17px;text-align:right;padding-right:3px;">12.82%</div>
<div class="t i" style="left:356px;top:433px;width:49px;height:17px;line-height:17px;text-align:center;padding-right:0px;">n/a</div>
<div class="t " style="left:406px;top:433px;width:58px;height:17px;line-height:17px;text-align:right;padding-right:3px;">$0</div>
<div class="t b" style="left:465px;top:433px;width:57px;height:17px;line-height:17px;text-align:right;padding-right:3px;">$667</div>
<div class="t " style="left:524px;top:433px;width:65px;height:17px;line-height:17px;text-align:right;padding-right:3px;">8.50%</div>
<div class="t " style="left:590px;top:433px;width:58px;height:17px;line-height:17px;text-align:right;padding-right:3px;">$442</div>
<div class="t " style="left:649px;top:433px;width:58px;height:17px;line-height:17px;text-align:right;padding-right:3px;">$225</div>
<div class="t b" style="left:708px;top:433px;width:76px;height:17px;line-height:17px;text-align:right;padding-right:3px;">$442</div>
<div class="t b" style="left:786px;top:433px;width:69px;height:17px;line-height:17px;text-align:right;padding-right:3px;">$225</div>
<div class="t b" style="left:856px;top:433px;width:75px;height:17px;line-height:17px;text-align:right;padding-right:3px;">$2,696</div>
<div class="t " style="left:9px;top:451px;width:91px;height:17px;line-height:17px;text-align:right;padding-right:3px;">550%</div>
<div class="t " style="left:102px;top:451px;width:108px;height:17px;line-height:17px;text-align:right;padding-right:3px;">$68,695</div>
<div class="t b" style="left:212px;top:451px;width:76px;height:17px;line-height:17px;text-align:right;padding-right:3px;">$667</div>
<div class="t " style="left:290px;top:451px;width:65px;height:17px;line-height:17px;text-align:right;padding-right:3px;">11.65%</div>
<div class="t i" style="left:356px;top:451px;width:49px;height:17px;line-height:17px;text-align:center;padding-right:0px;">n/a</div>
<div class="t " style="left:406px;top:451px;width:58px;height:17px;line-height:17px;text-align:right;padding-right:3px;">$0</div>
<div class="t b" style="left:465px;top:451px;width:57px;height:17px;line-height:17px;text-align:right;padding-right:3px;">$667</div>
<div class="t " style="left:524px;top:451px;width:65px;height:17px;line-height:17px;text-align:right;padding-right:3px;">8.50%</div>
<div class="t " style="left:590px;top:451px;width:58px;height:17px;line-height:17px;text-align:right;padding-right:3px;">$487</div>
<div class="t " style="left:649px;top:451px;width:58px;height:17px;line-height:17px;text-align:right;padding-right:3px;">$180</div>
<div class="t b" style="left:708px;top:451px;width:76px;height:17px;line-height:17px;text-align:right;padding-right:3px;">$487</div>
<div class="t b" style="left:786px;top:451px;width:69px;height:17px;line-height:17px;text-align:right;padding-right:3px;">$180</div>
<div class="t b" style="left:856px;top:451px;width:75px;height:17px;line-height:17px;text-align:right;padding-right:3px;">$2,165</div>
<div class="t " style="left:9px;top:469px;width:91px;height:17px;line-height:17px;text-align:right;padding-right:3px;">600%</div>
<div class="t " style="left:102px;top:469px;width:108px;height:17px;line-height:17px;text-align:right;padding-right:3px;">$74,940</div>
<div class="t b" style="left:212px;top:469px;width:76px;height:17px;line-height:17px;text-align:right;padding-right:3px;">$667</div>
<div class="t " style="left:290px;top:469px;width:65px;height:17px;line-height:17px;text-align:right;padding-right:3px;">10.68%</div>
<div class="t i" style="left:356px;top:469px;width:49px;height:17px;line-height:17px;text-align:center;padding-right:0px;">n/a</div>
<div class="t " style="left:406px;top:469px;width:58px;height:17px;line-height:17px;text-align:right;padding-right:3px;">$0</div>
<div class="t b" style="left:465px;top:469px;width:57px;height:17px;line-height:17px;text-align:right;padding-right:3px;">$667</div>
<div class="t " style="left:524px;top:469px;width:65px;height:17px;line-height:17px;text-align:right;padding-right:3px;">8.50%</div>
<div class="t " style="left:590px;top:469px;width:58px;height:17px;line-height:17px;text-align:right;padding-right:3px;">$531</div>
<div class="t " style="left:649px;top:469px;width:58px;height:17px;line-height:17px;text-align:right;padding-right:3px;">$136</div>
<div class="t b" style="left:708px;top:469px;width:76px;height:17px;line-height:17px;text-align:right;padding-right:3px;">$531</div>
<div class="t b" style="left:786px;top:469px;width:69px;height:17px;line-height:17px;text-align:right;padding-right:3px;">$136</div>
<div class="t b" style="left:856px;top:469px;width:75px;height:17px;line-height:17px;text-align:right;padding-right:3px;">$1,634</div>
<div class="t " style="left:9px;top:487px;width:91px;height:17px;line-height:17px;text-align:right;padding-right:3px;">650%</div>
<div class="t " style="left:102px;top:487px;width:108px;height:17px;line-height:17px;text-align:right;padding-right:3px;">$81,185</div>
<div class="t b" style="left:212px;top:487px;width:76px;height:17px;line-height:17px;text-align:right;padding-right:3px;">$667</div>
<div class="t " style="left:290px;top:487px;width:65px;height:17px;line-height:17px;text-align:right;padding-right:3px;">9.86%</div>
<div class="t i" style="left:356px;top:487px;width:49px;height:17px;line-height:17px;text-align:center;padding-right:0px;">n/a</div>
<div class="t " style="left:406px;top:487px;width:58px;height:17px;line-height:17px;text-align:right;padding-right:3px;">$0</div>
<div class="t b" style="left:465px;top:487px;width:57px;height:17px;line-height:17px;text-align:right;padding-right:3px;">$667</div>
<div class="t " style="left:524px;top:487px;width:65px;height:17px;line-height:17px;text-align:right;padding-right:3px;">8.50%</div>
<div class="t " style="left:590px;top:487px;width:58px;height:17px;line-height:17px;text-align:right;padding-right:3px;">$575</div>
<div class="t " style="left:649px;top:487px;width:58px;height:17px;line-height:17px;text-align:right;padding-right:3px;">$92</div>
<div class="t b" style="left:708px;top:487px;width:76px;height:17px;line-height:17px;text-align:right;padding-right:3px;">$575</div>
<div class="t b" style="left:786px;top:487px;width:69px;height:17px;line-height:17px;text-align:right;padding-right:3px;">$92</div>
<div class="t b" style="left:856px;top:487px;width:75px;height:17px;line-height:17px;text-align:right;padding-right:3px;">$1,103</div>
<div class="t " style="left:9px;top:505px;width:91px;height:17px;line-height:17px;text-align:right;padding-right:3px;">700%</div>
<div class="t " style="left:102px;top:505px;width:108px;height:17px;line-height:17px;text-align:right;padding-right:3px;">$87,430</div>
<div class="t b" style="left:212px;top:505px;width:76px;height:17px;line-height:17px;text-align:right;padding-right:3px;">$667</div>
<div class="t " style="left:290px;top:505px;width:65px;height:17px;line-height:17px;text-align:right;padding-right:3px;">9.15%</div>
<div class="t i" style="left:356px;top:505px;width:49px;height:17px;line-height:17px;text-align:center;padding-right:0px;">n/a</div>
<div class="t " style="left:406px;top:505px;width:58px;height:17px;line-height:17px;text-align:right;padding-right:3px;">$0</div>
<div class="t b" style="left:465px;top:505px;width:57px;height:17px;line-height:17px;text-align:right;padding-right:3px;">$667</div>
<div class="t " style="left:524px;top:505px;width:65px;height:17px;line-height:17px;text-align:right;padding-right:3px;">8.50%</div>
<div class="t " style="left:590px;top:505px;width:58px;height:17px;line-height:17px;text-align:right;padding-right:3px;">$619</div>
<div class="t " style="left:649px;top:505px;width:58px;height:17px;line-height:17px;text-align:right;padding-right:3px;">$48</div>
<div class="t b" style="left:708px;top:505px;width:76px;height:17px;line-height:17px;text-align:right;padding-right:3px;">$619</div>
<div class="t b" style="left:786px;top:505px;width:69px;height:17px;line-height:17px;text-align:right;padding-right:3px;">$48</div>
<div class="t b" style="left:856px;top:505px;width:75px;height:17px;line-height:17px;text-align:right;padding-right:3px;">$572</div>
<div class="t " style="left:9px;top:523px;width:91px;height:17px;line-height:17px;text-align:right;padding-right:3px;">750%</div>
<div class="t " style="left:102px;top:523px;width:108px;height:17px;line-height:17px;text-align:right;padding-right:3px;">$93,675</div>
<div class="t b" style="left:212px;top:523px;width:76px;height:17px;line-height:17px;text-align:right;padding-right:3px;">$667</div>
<div class="t " style="left:290px;top:523px;width:65px;height:17px;line-height:17px;text-align:right;padding-right:3px;">8.54%</div>
<div class="t i" style="left:356px;top:523px;width:49px;height:17px;line-height:17px;text-align:center;padding-right:0px;">n/a</div>
<div class="t " style="left:406px;top:523px;width:58px;height:17px;line-height:17px;text-align:right;padding-right:3px;">$0</div>
<div class="t b" style="left:465px;top:523px;width:57px;height:17px;line-height:17px;text-align:right;padding-right:3px;">$667</div>
<div class="t " style="left:524px;top:523px;width:65px;height:17px;line-height:17px;text-align:right;padding-right:3px;">8.50%</div>
<div class="t " style="left:590px;top:523px;width:58px;height:17px;line-height:17px;text-align:right;padding-right:3px;">$664</div>
<div class="t " style="left:649px;top:523px;width:58px;height:17px;line-height:17px;text-align:right;padding-right:3px;">$3</div>
<div class="t b" style="left:708px;top:523px;width:76px;height:17px;line-height:17px;text-align:right;padding-right:3px;">$664</div>
<div class="t b" style="left:786px;top:523px;width:69px;height:17px;line-height:17px;text-align:right;padding-right:3px;">$3</div>
<div class="t b" style="left:856px;top:523px;width:75px;height:17px;line-height:17px;text-align:right;padding-right:3px;">$42</div>
<div class="t " style="left:9px;top:541px;width:91px;height:17px;line-height:17px;text-align:right;padding-right:3px;">800%</div>
<div class="t " style="left:102px;top:541px;width:108px;height:17px;line-height:17px;text-align:right;padding-right:3px;">$99,920</div>
<div class="t b" style="left:212px;top:541px;width:76px;height:17px;line-height:17px;text-align:right;padding-right:3px;">$667</div>
<div class="t " style="left:290px;top:541px;width:65px;height:17px;line-height:17px;text-align:right;padding-right:3px;">8.01%</div>
<div class="t i" style="left:356px;top:541px;width:49px;height:17px;line-height:17px;text-align:center;padding-right:0px;">n/a</div>
<div class="t " style="left:406px;top:541px;width:58px;height:17px;line-height:17px;text-align:right;padding-right:3px;">$0</div>
<div class="t b" style="left:465px;top:541px;width:57px;height:17px;line-height:17px;text-align:right;padding-right:3px;">$667</div>
<div class="t " style="left:524px;top:541px;width:65px;height:17px;line-height:17px;text-align:right;padding-right:3px;">8.01%</div>
<div class="t " style="left:590px;top:541px;width:58px;height:17px;line-height:17px;text-align:right;padding-right:3px;">$667</div>
<div class="t " style="left:649px;top:541px;width:58px;height:17px;line-height:17px;text-align:right;padding-right:3px;">$0</div>
<div class="t b" style="left:708px;top:541px;width:76px;height:17px;line-height:17px;text-align:right;padding-right:3px;">$667</div>
<div class="t " style="left:786px;top:541px;width:69px;height:17px;line-height:17px;text-align:right;padding-right:3px;">$0</div>
<div class="t " style="left:856px;top:541px;width:75px;height:17px;line-height:17px;text-align:right;padding-right:3px;">$0</div>
<div class="t " style="left:9px;top:559px;width:91px;height:17px;line-height:17px;text-align:right;padding-right:3px;">850%</div>
<div class="t " style="left:102px;top:559px;width:108px;height:17px;line-height:17px;text-align:right;padding-right:3px;">$106,165</div>
<div class="t b" style="left:212px;top:559px;width:76px;height:17px;line-height:17px;text-align:right;padding-right:3px;">$667</div>
<div class="t " style="left:290px;top:559px;width:65px;height:17px;line-height:17px;text-align:right;padding-right:3px;">7.54%</div>
<div class="t i" style="left:356px;top:559px;width:49px;height:17px;line-height:17px;text-align:center;padding-right:0px;">n/a</div>
<div class="t " style="left:406px;top:559px;width:58px;height:17px;line-height:17px;text-align:right;padding-right:3px;">$0</div>
<div class="t b" style="left:465px;top:559px;width:57px;height:17px;line-height:17px;text-align:right;padding-right:3px;">$667</div>
<div class="t " style="left:524px;top:559px;width:65px;height:17px;line-height:17px;text-align:right;padding-right:3px;">7.54%</div>
<div class="t " style="left:590px;top:559px;width:58px;height:17px;line-height:17px;text-align:right;padding-right:3px;">$667</div>
<div class="t " style="left:649px;top:559px;width:58px;height:17px;line-height:17px;text-align:right;padding-right:3px;">$0</div>
<div class="t b" style="left:708px;top:559px;width:76px;height:17px;line-height:17px;text-align:right;padding-right:3px;">$667</div>
<div class="t " style="left:786px;top:559px;width:69px;height:17px;line-height:17px;text-align:right;padding-right:3px;">$0</div>
<div class="t " style="left:856px;top:559px;width:75px;height:17px;line-height:17px;text-align:right;padding-right:3px;">$0</div>
<div class="t " style="left:9px;top:577px;width:91px;height:17px;line-height:17px;text-align:right;padding-right:3px;">900%</div>
<div class="t " style="left:102px;top:577px;width:108px;height:17px;line-height:17px;text-align:right;padding-right:3px;">$112,410</div>
<div class="t b" style="left:212px;top:577px;width:76px;height:17px;line-height:17px;text-align:right;padding-right:3px;">$667</div>
<div class="t " style="left:290px;top:577px;width:65px;height:17px;line-height:17px;text-align:right;padding-right:3px;">7.12%</div>
<div class="t i" style="left:356px;top:577px;width:49px;height:17px;line-height:17px;text-align:center;padding-right:0px;">n/a</div>
<div class="t " style="left:406px;top:577px;width:58px;height:17px;line-height:17px;text-align:right;padding-right:3px;">$0</div>
<div class="t b" style="left:465px;top:577px;width:57px;height:17px;line-height:17px;text-align:right;padding-right:3px;">$667</div>
<div class="t " style="left:524px;top:577px;width:65px;height:17px;line-height:17px;text-align:right;padding-right:3px;">7.12%</div>
<div class="t " style="left:590px;top:577px;width:58px;height:17px;line-height:17px;text-align:right;padding-right:3px;">$667</div>
<div class="t " style="left:649px;top:577px;width:58px;height:17px;line-height:17px;text-align:right;padding-right:3px;">$0</div>
<div class="t b" style="left:708px;top:577px;width:76px;height:17px;line-height:17px;text-align:right;padding-right:3px;">$667</div>
<div class="t " style="left:786px;top:577px;width:69px;height:17px;line-height:17px;text-align:right;padding-right:3px;">$0</div>
<div class="t " style="left:856px;top:577px;width:75px;height:17px;line-height:17px;text-align:right;padding-right:3px;">$0</div>
<div class="t " style="left:9px;top:595px;width:91px;height:17px;line-height:17px;text-align:right;padding-right:3px;">950%</div>
<div class="t " style="left:102px;top:595px;width:108px;height:17px;line-height:17px;text-align:right;padding-right:3px;">$118,655</div>
<div class="t b" style="left:212px;top:595px;width:76px;height:17px;line-height:17px;text-align:right;padding-right:3px;">$667</div>
<div class="t " style="left:290px;top:595px;width:65px;height:17px;line-height:17px;text-align:right;padding-right:3px;">6.75%</div>
<div class="t i" style="left:356px;top:595px;width:49px;height:17px;line-height:17px;text-align:center;padding-right:0px;">n/a</div>
<div class="t " style="left:406px;top:595px;width:58px;height:17px;line-height:17px;text-align:right;padding-right:3px;">$0</div>
<div class="t b" style="left:465px;top:595px;width:57px;height:17px;line-height:17px;text-align:right;padding-right:3px;">$667</div>
<div class="t " style="left:524px;top:595px;width:65px;height:17px;line-height:17px;text-align:right;padding-right:3px;">6.75%</div>
<div class="t " style="left:590px;top:595px;width:58px;height:17px;line-height:17px;text-align:right;padding-right:3px;">$667</div>
<div class="t " style="left:649px;top:595px;width:58px;height:17px;line-height:17px;text-align:right;padding-right:3px;">$0</div>
<div class="t b" style="left:708px;top:595px;width:76px;height:17px;line-height:17px;text-align:right;padding-right:3px;">$667</div>
<div class="t " style="left:786px;top:595px;width:69px;height:17px;line-height:17px;text-align:right;padding-right:3px;">$0</div>
<div class="t " style="left:856px;top:595px;width:75px;height:17px;line-height:17px;text-align:right;padding-right:3px;">$0</div>
<div class="t " style="left:9px;top:613px;width:91px;height:17px;line-height:17px;text-align:right;padding-right:3px;">1000%</div>
<div class="t " style="left:102px;top:613px;width:108px;height:17px;line-height:17px;text-align:right;padding-right:3px;">$124,900</div>
<div class="t b" style="left:212px;top:613px;width:76px;height:17px;line-height:17px;text-align:right;padding-right:3px;">$667</div>
<div class="t " style="left:290px;top:613px;width:65px;height:17px;line-height:17px;text-align:right;padding-right:3px;">6.41%</div>
<div class="t i" style="left:356px;top:613px;width:49px;height:17px;line-height:17px;text-align:center;padding-right:0px;">n/a</div>
<div class="t " style="left:406px;top:613px;width:58px;height:17px;line-height:17px;text-align:right;padding-right:3px;">$0</div>
<div class="t b" style="left:465px;top:613px;width:57px;height:17px;line-height:17px;text-align:right;padding-right:3px;">$667</div>
<div class="t " style="left:524px;top:613px;width:65px;height:17px;line-height:17px;text-align:right;padding-right:3px;">6.41%</div>
<div class="t " style="left:590px;top:613px;width:58px;height:17px;line-height:17px;text-align:right;padding-right:3px;">$667</div>
<div class="t " style="left:649px;top:613px;width:58px;height:17px;line-height:17px;text-align:right;padding-right:3px;">$0</div>
<div class="t b" style="left:708px;top:613px;width:76px;height:17px;line-height:17px;text-align:right;padding-right:3px;">$667</div>
<div class="t " style="left:786px;top:613px;width:69px;height:17px;line-height:17px;text-align:right;padding-right:3px;">$0</div>
<div class="t " style="left:856px;top:613px;width:75px;height:17px;line-height:17px;text-align:right;padding-right:3px;">$0</div>
</div>
</body></html>
